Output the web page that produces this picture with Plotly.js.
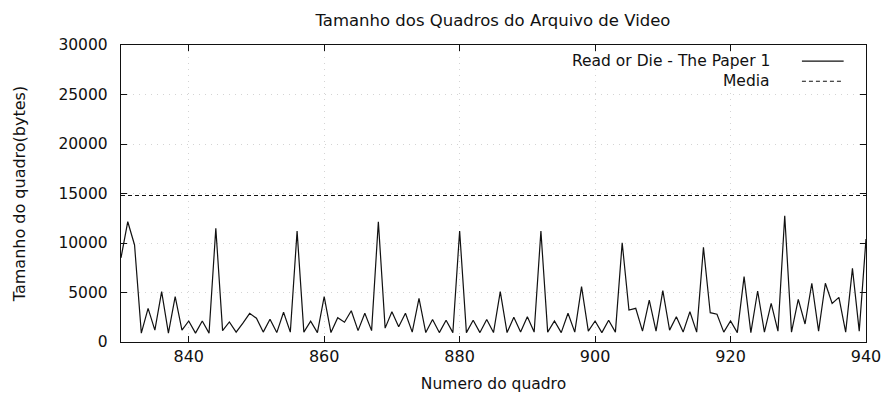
<!DOCTYPE html>
<html>
<head>
<meta charset="utf-8">
<script src="https://cdn.plot.ly/plotly-3.0.1.min.js"></script>
<style>html,body{margin:0;padding:0;background:#fff;}#chart{width:885px;height:399px;}</style>
</head>
<body>
<div id="chart"></div>
<script>
var frames = [
  830,831,832,833,834,835,836,837,838,839,
  840,841,842,843,844,845,846,847,848,849,
  850,851,852,853,854,855,856,857,858,859,
  860,861,862,863,864,865,866,867,868,869,
  870,871,872,873,874,875,876,877,878,879,
  880,881,882,883,884,885,886,887,888,889,
  890,891,892,893,894,895,896,897,898,899,
  900,901,902,903,904,905,906,907,908,909,
  910,911,912,913,914,915,916,917,918,919,
  920,921,922,923,924,925,926,927,928,929,
  930,931,932,933,934,935,936,937,938,939,
  940
];
var frameSizes = [
  8500,12150,9800,900,3400,1200,5080,900,4580,1200,
  2120,900,2120,900,11480,1150,2020,1000,1900,2900,
  2400,1000,2300,950,3000,1000,11200,1000,2100,950,
  4580,950,2460,2000,3160,1150,2900,1150,12150,1400,
  3050,1550,2900,1000,4400,950,2280,950,2200,950,
  11200,950,2200,950,2280,950,5080,950,2490,1000,
  2560,1000,11200,1000,2120,950,2900,1000,5590,1100,
  2120,950,2200,1000,10030,3230,3400,1100,4240,1100,
  5180,1200,2560,1000,3060,1000,9560,2960,2800,1000,
  2120,950,6600,950,5150,1000,3900,1100,12760,1000,
  4310,1820,5930,1100,5930,3900,4510,1000,7440,1100,
  10400
];
var meanValue = 14800;
var seriesName = "Read or Die - The Paper 1";
var meanName = "Media";
var xTicks = [840, 860, 880, 900, 920, 940];
var yTicks = [0, 5000, 10000, 15000, 20000, 25000, 30000];

var FONT = "DejaVu Sans, Verdana, sans-serif";
var TXT = "#111";

var traces = [
  {x: frames, y: frameSizes, type: "scatter", mode: "lines", name: seriesName,
   line: {color: "#111", width: 1.2}},
  {x: [frames[0], frames[frames.length - 1]], y: [meanValue, meanValue], type: "scatter", mode: "lines",
   name: meanName, line: {color: "#111", width: 1.2, dash: "4px,3px"}}
];

var layout = {
  width: 885, height: 399,
  margin: {l: 121, r: 19, t: 45, b: 57},
  paper_bgcolor: "#fff", plot_bgcolor: "#fff",
  showlegend: false,
  font: {family: FONT, size: 16, color: TXT},
  title: {text: "Tamanho dos Quadros do Arquivo de Video", x: 0.557, xanchor: "center", y: 0.95, yanchor: "middle",
          font: {family: FONT, size: 16.5, color: TXT}},
  xaxis: {
    range: [830, 940], tickvals: xTicks, ticktext: xTicks.map(String),
    showline: true, linecolor: "#111", linewidth: 1.2, mirror: "ticks",
    ticks: "inside", ticklen: 6, tickcolor: "#111",
    showgrid: true, gridcolor: "#d4d4d4", griddash: "1px,5px", gridwidth: 1,
    zeroline: false, tickfont: {family: FONT, size: 16, color: TXT},
    title: {text: "Numero do quadro", font: {family: FONT, size: 15.5, color: TXT}, standoff: 12}
  },
  yaxis: {
    range: [0, 30000], tickvals: yTicks, ticktext: yTicks.map(String),
    showline: true, linecolor: "#111", linewidth: 1.2, mirror: "ticks",
    ticks: "inside", ticklen: 6, tickcolor: "#111",
    showgrid: true, gridcolor: "#d4d4d4", griddash: "1px,5px", gridwidth: 1,
    zeroline: false, tickfont: {family: FONT, size: 15.5, color: TXT},
    ticklabelstandoff: 9,
    title: {text: "Tamanho do quadro(bytes)", font: {family: FONT, size: 16, color: TXT}, standoff: 28}
  },
  annotations: [
    {xref: "paper", yref: "paper", x: 0.872, y: 0.946, xanchor: "right", yanchor: "middle", showarrow: false,
     borderpad: 0, text: seriesName, font: {family: FONT, size: 15.5, color: TXT}},
    {xref: "paper", yref: "paper", x: 0.872, y: 0.878, xanchor: "right", yanchor: "middle", showarrow: false,
     borderpad: 0, text: meanName, font: {family: FONT, size: 15.5, color: TXT}}
  ],
  shapes: [
    {type: "line", xref: "paper", yref: "paper", x0: 0.914, x1: 0.970, y0: 0.946, y1: 0.946,
     line: {color: "#111", width: 1.2}},
    {type: "line", xref: "paper", yref: "paper", x0: 0.914, x1: 0.970, y0: 0.878, y1: 0.878,
     line: {color: "#111", width: 1.2, dash: "4px,3px"}}
  ]
};

Plotly.newPlot("chart", traces, layout, {displayModeBar: false, staticPlot: true});
</script>
</body>
</html>
